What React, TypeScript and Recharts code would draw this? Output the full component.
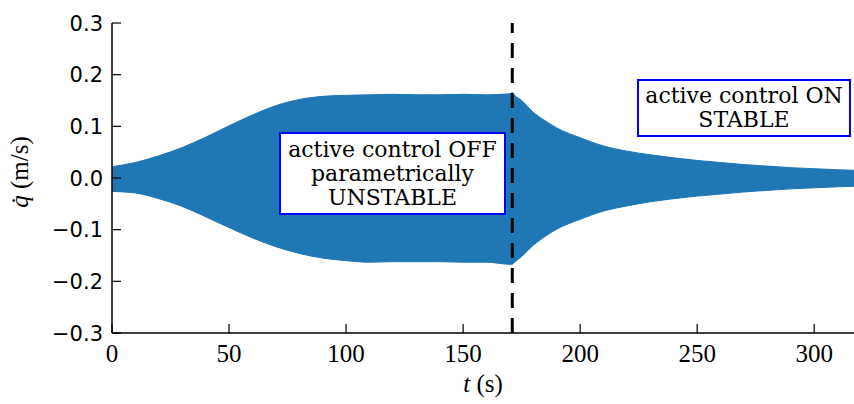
import { ComposedChart, Area, XAxis, YAxis, ReferenceLine } from "recharts"

// envelope of the fast oscillation
const times = [
  0, 10, 20, 30, 40, 50, 60, 70, 80, 90, 100, 110, 120, 130, 140, 150, 160, 170, 171,
  172, 175, 180, 185, 190, 200, 210, 220, 230, 240, 250, 260, 270, 280, 290, 300, 310, 317,
]
const upper = [
  0.022, 0.03, 0.043, 0.059, 0.079, 0.101, 0.122, 0.14, 0.152, 0.158, 0.16, 0.161, 0.162,
  0.161, 0.161, 0.162, 0.161, 0.163, 0.165,
  0.16, 0.15, 0.127, 0.111, 0.097, 0.078, 0.062, 0.052, 0.045, 0.039, 0.034, 0.03, 0.026,
  0.023, 0.02, 0.018, 0.016, 0.015,
]
const lower = [
  -0.026, -0.029, -0.04, -0.055, -0.075, -0.096, -0.116, -0.133, -0.146, -0.155, -0.16,
  -0.163, -0.162, -0.162, -0.162, -0.163, -0.163, -0.167, -0.167,
  -0.163, -0.152, -0.13, -0.113, -0.099, -0.08, -0.064, -0.054, -0.046, -0.04, -0.035,
  -0.031, -0.027, -0.024, -0.021, -0.019, -0.017, -0.016,
]

const xTicks = [0, 50, 100, 150, 200, 250, 300]
const yTicks = [-0.3, -0.2, -0.1, 0, 0.1, 0.2, 0.3]
const switchTime = 171

const offLines = ["active control OFF", "parametrically", "UNSTABLE"]
const onLines = ["active control ON", "STABLE"]

const data = times.map((t, i) => ({ t, band: [lower[i], upper[i]] }))

const XTick = (props: any) => {
  const { x, y, payload } = props
  return (
    <g>
      <line x1={x} x2={x} y1={y} y2={y - 9} stroke="#000" strokeWidth={1.2} />
      <text x={x} y={y + 29} textAnchor="middle" fontFamily="Liberation Serif" fontSize={25} fill="#000">
        {payload.value}
      </text>
    </g>
  )
}

const YTick = (props: any) => {
  const { x, y, payload } = props
  const label = payload.value.toFixed(1).replace("-", "\u2212")
  return (
    <g>
      <line x1={x} x2={x + 9} y1={y} y2={y} stroke="#000" strokeWidth={1.2} />
      <text x={x - 9} y={y + 7.5} textAnchor="end" fontFamily="DejaVu Sans" fontSize={21} fill="#000">
        {label}
      </text>
    </g>
  )
}

const boxStyle = {
  position: "absolute" as const,
  background: "#fff",
  border: "2px solid #0000ff",
  boxSizing: "border-box" as const,
  fontFamily: "DejaVu Serif",
  fontSize: 22,
  lineHeight: "24px",
  color: "#000",
  textAlign: "center" as const,
  display: "flex",
  flexDirection: "column" as const,
  justifyContent: "center",
  whiteSpace: "nowrap" as const,
}

export default function App() {
  return (
    <div style={{ position: "absolute", left: 0, top: 0, width: 854, height: 404, background: "#fff" }}>
      <ComposedChart width={854} height={404} data={data} margin={{ top: 23, right: 0, bottom: 0, left: 0 }}>
        <XAxis
          dataKey="t"
          type="number"
          domain={[0, 317]}
          ticks={xTicks}
          interval={0}
          allowDataOverflow
          height={71}
          tickSize={0}
          tickMargin={0}
          tickLine={false}
          tick={<XTick />}
          stroke="#000"
          strokeWidth={1.5}
        />
        <YAxis
          type="number"
          domain={[-0.3, 0.3]}
          ticks={yTicks}
          interval={0}
          allowDataOverflow
          width={112}
          tickSize={0}
          tickMargin={0}
          tickLine={false}
          tick={<YTick />}
          stroke="#000"
          strokeWidth={1.5}
        />
        <Area
          dataKey="band"
          type="monotone"
          fill="#1f77b4"
          fillOpacity={1}
          stroke="#1f77b4"
          strokeWidth={1}
          isAnimationActive={false}
          dot={false}
          activeDot={false}
        />
        <ReferenceLine x={switchTime} stroke="#000" strokeWidth={3} strokeDasharray="15 10" />
        <text x={483} y={392} textAnchor="middle" fontFamily="Liberation Serif" fontSize={25} fill="#000">
          <tspan fontStyle="italic">t</tspan> (s)
        </text>
        <text
          x={28}
          y={172}
          textAnchor="middle"
          transform="rotate(-90 28 172)"
          fontFamily="Liberation Serif"
          fontSize={25}
          fill="#000"
        >
          <tspan fontStyle="italic">q&#x0307;</tspan> (m/s)
        </text>
      </ComposedChart>
      <div style={{ ...boxStyle, left: 279, top: 132, width: 227, height: 83 }}>
        {offLines.map((s) => (
          <div key={s}>{s}</div>
        ))}
      </div>
      <div style={{ ...boxStyle, left: 637, top: 79, width: 214, height: 58 }}>
        {onLines.map((s) => (
          <div key={s}>{s}</div>
        ))}
      </div>
    </div>
  )
}
